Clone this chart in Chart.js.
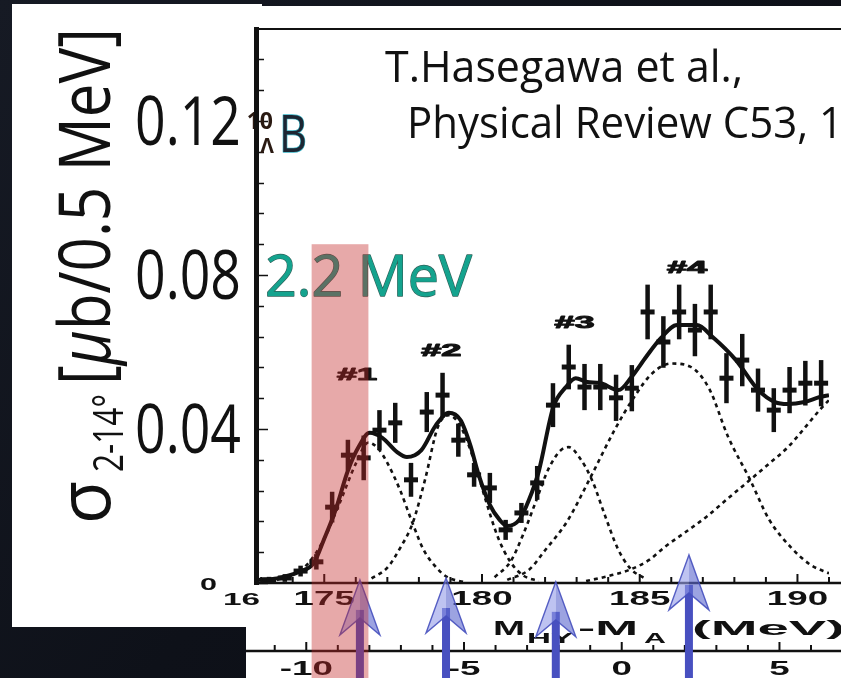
<!DOCTYPE html>
<html>
<head>
<meta charset="utf-8">
<script src="https://cdn.jsdelivr.net/npm/chart.js@4.4.1/dist/chart.umd.min.js"></script>
<style>
  html, body { margin: 0; padding: 0; background: #0d1017; overflow: hidden; }
  canvas { display: block; }
</style>
</head>
<body>
<canvas id="spectrum" width="841" height="678"></canvas>
<script>
// 10B_Lambda excitation spectrum, sigma(2-14 deg) per 0.5 MeV bin, vs M_HY - M_A (MeV)
const binMass = [173.25, 173.75, 174.25, 174.75, 175.25, 175.75, 176.25, 176.75, 177.25, 177.75,
  178.25, 178.75, 179.25, 179.75, 180.25, 180.75, 181.25, 181.75, 182.25, 182.75,
  183.25, 183.75, 184.25, 184.75, 185.25, 185.75, 186.25, 186.75, 187.25, 187.75,
  188.25, 188.75, 189.25, 189.75, 190.25, 190.75];
const crossSection = [0.0008, 0.0013, 0.0031, 0.0055, 0.0197, 0.0332, 0.0325, 0.0397, 0.0416, 0.0268,
  0.0444, 0.0488, 0.0371, 0.0281, 0.0247, 0.0138, 0.0182, 0.0260, 0.0462, 0.0561,
  0.0509, 0.0509, 0.0481, 0.0506, 0.0704, 0.0626, 0.0704, 0.0657, 0.0704, 0.0532,
  0.0579, 0.0501, 0.0449, 0.0501, 0.0519, 0.0519];
const crossSectionErr = [0.0008, 0.0010, 0.0014, 0.0020, 0.0040, 0.0040, 0.0058, 0.0052, 0.0052, 0.0044,
  0.0052, 0.0058, 0.0043, 0.0031, 0.0039, 0.0026, 0.0026, 0.0044, 0.0057, 0.0058,
  0.0060, 0.0060, 0.0060, 0.0060, 0.0071, 0.0067, 0.0071, 0.0068, 0.0071, 0.0065,
  0.0068, 0.0056, 0.0057, 0.0060, 0.0058, 0.0060];

// total fit
const fitMass = [172.9, 173.5, 174.2, 174.67, 175.0, 175.36, 175.76, 176.1, 176.44, 176.84,
  177.31, 177.62, 178.08, 178.54, 178.95, 179.32, 179.63, 179.88, 180.25, 180.56,
  180.8, 181.18, 181.49, 181.8, 182.26, 182.66, 182.97, 183.34, 183.72, 184.33,
  184.74, 185.2, 185.67, 186.19, 186.81, 187.31, 188.05, 188.76, 189.29, 189.69,
  190.22, 190.71, 191.0];
const fitValue = [0.0008, 0.0012, 0.0029, 0.0052, 0.0115, 0.0190, 0.0294, 0.0355, 0.0390, 0.0377,
  0.0340, 0.0327, 0.0345, 0.0410, 0.0442, 0.0423, 0.0358, 0.0285, 0.0203, 0.0164,
  0.0148, 0.0164, 0.0216, 0.0290, 0.0457, 0.0509, 0.0532, 0.0522, 0.0520, 0.0501,
  0.0535, 0.0587, 0.0636, 0.0670, 0.0670, 0.0639, 0.0579, 0.0501, 0.0470, 0.0465,
  0.0470, 0.0483, 0.0488];

// fitted peak components #1 .. #4 and the rising tail of the next state
const peak1Mass  = [173.5, 174.0, 174.5, 175.0, 175.5, 176.0, 176.4, 176.7, 177.0, 177.4, 177.8, 178.15, 178.5, 178.9, 179.4];
const peak1Value = [0.0008, 0.0022, 0.0052, 0.0115, 0.0210, 0.0310, 0.0365, 0.0350, 0.0312, 0.0242, 0.0155, 0.0086, 0.0045, 0.0015, 0.0003];
const peak2Mass  = [176.5, 177.0, 177.4, 177.8, 178.2, 178.6, 178.95, 179.3, 179.7, 180.1, 180.5, 180.9, 181.3, 181.8];
const peak2Value = [0.0012, 0.0040, 0.0090, 0.0155, 0.0270, 0.0405, 0.0436, 0.0410, 0.0330, 0.0220, 0.0120, 0.0055, 0.0020, 0.0005];
const peak3Mass  = [180.4, 180.9, 181.3, 181.7, 182.1, 182.5, 182.75, 183.1, 183.5, 183.9, 184.3, 184.7, 185.2];
const peak3Value = [0.0015, 0.0055, 0.0125, 0.0210, 0.0295, 0.0345, 0.0353, 0.0325, 0.0265, 0.0175, 0.0090, 0.0038, 0.0010];
const peak4Mass  = [180.8, 181.5, 182.0, 182.7, 183.4, 184.2, 184.8, 185.4, 186.0, 186.6, 187.2, 187.8, 188.5, 189.1, 189.8, 190.4, 191.0];
const peak4Value = [0.0008, 0.0035, 0.0085, 0.0160, 0.0268, 0.0397, 0.0480, 0.0545, 0.0570, 0.0562, 0.0505, 0.0380, 0.0268, 0.0165, 0.0092, 0.0048, 0.0025];
const tailMass   = [183.3, 184.0, 184.7, 185.3, 185.8, 186.5, 187.1, 187.8, 188.5, 189.1, 189.7, 190.2, 190.7, 191.0];
const tailValue  = [0.0005, 0.0018, 0.0035, 0.0060, 0.0094, 0.0135, 0.0171, 0.0220, 0.0268, 0.0310, 0.0353, 0.0400, 0.0449, 0.0475];

// axes
const massRange = [172.9, 191.0];
const sigmaRange = [0, 0.1439];
const sigmaTicks = [0, 0.04, 0.08, 0.12];
const sigmaTickLabels = ['0', '0.04', '0.08', '0.12'];
const massTicks = [175, 180, 185, 190];
const bindingZero = 184.43;           // lower scale: M_HY - M_A relative to threshold
const bindingTicks = [-10, -5, 0, 5];

// peak labels, arrows, resolution band
const peakLabels = ['#1', '#2', '#3', '#4'];
const peakLabelMass = [176.04, 178.71, 182.93, 186.5];
const peakLabelSigma = [0.0543, 0.0605, 0.0678, 0.0821];
const arrowMass = [176.13, 178.86, 182.34, 186.56];
const arrowTipSigma = [0.0008, 0.0013, 0.0003, 0.0073];
const bandMass = [174.6, 176.4];
const bandTopSigma = 0.088;

const toXY = (xs, ys) => xs.map((x, i) => ({ x: x, y: ys[i] }));

const INK = '#111';
const PRESENTER = '"Open Sans", "Noto Sans", "Liberation Sans", sans-serif';
const FIGFONT = '"Liberation Sans", Arial, sans-serif';

// draws text; optional fitted width or horizontal stretch
function txt(ctx, s, x, y, o) {
  ctx.save();
  ctx.font = o.font;
  ctx.textAlign = 'left';
  ctx.textBaseline = 'alphabetic';
  const w = ctx.measureText(s).width;
  const sx = o.width ? o.width / w : (o.sx || 1);
  const dw = w * sx;
  let left = x;
  if (o.align === 'center') left = x - dw / 2;
  else if (o.align === 'right') left = x - dw;
  ctx.translate(left, y);
  ctx.scale(sx, 1);
  if (o.stroke) {
    ctx.strokeStyle = o.stroke;
    ctx.lineWidth = o.lw || 1;
    ctx.lineJoin = 'round';
    ctx.strokeText(s, 0, 0);
  }
  ctx.fillStyle = o.color || INK;
  ctx.fillText(s, 0, 0);
  ctx.restore();
  return dw;
}

const backdrop = {
  id: 'backdrop',
  beforeDraw(chart) {
    const ctx = chart.ctx, W = chart.width, H = chart.height;
    ctx.save();
    const g = ctx.createLinearGradient(0, 0, W, H);
    g.addColorStop(0, '#161a24');
    g.addColorStop(0.5, '#0e1119');
    g.addColorStop(1, '#0b0d13');
    ctx.fillStyle = g;
    ctx.fillRect(0, 0, W, H);
    ctx.fillStyle = '#ffffff';
    ctx.fillRect(12, 4, 250, 623);
    ctx.fillRect(246, 6, W - 246, H - 6);
    ctx.restore();
  }
};

const errorBars = {
  id: 'errorBars',
  afterDatasetsDraw(chart) {
    const ctx = chart.ctx, xs = chart.scales.x, ys = chart.scales.y;
    ctx.save();
    ctx.strokeStyle = INK;
    ctx.lineWidth = 4.5;
    ctx.lineCap = 'butt';
    binMass.forEach((m, i) => {
      const x = xs.getPixelForValue(m);
      ctx.beginPath();
      ctx.moveTo(x, ys.getPixelForValue(crossSection[i] - crossSectionErr[i]));
      ctx.lineTo(x, ys.getPixelForValue(crossSection[i] + crossSectionErr[i]));
      ctx.stroke();
    });
    ctx.restore();
  }
};

function drawArrow(ctx, x, tipY, bottom) {
  const headH = 55, notch = 38, half = 20, shaftW = 8;
  ctx.fillStyle = 'rgb(72,80,192)';
  ctx.fillRect(x - shaftW / 2, tipY + notch - 8, shaftW, bottom - (tipY + notch - 8));
  ctx.beginPath();
  ctx.moveTo(x, tipY); ctx.lineTo(x - half, tipY + headH); ctx.lineTo(x, tipY + notch); ctx.closePath();
  ctx.fillStyle = 'rgba(150,158,232,0.62)';
  ctx.fill();
  ctx.beginPath();
  ctx.moveTo(x, tipY); ctx.lineTo(x + half, tipY + headH); ctx.lineTo(x, tipY + notch); ctx.closePath();
  ctx.fillStyle = 'rgba(96,106,206,0.62)';
  ctx.fill();
  ctx.beginPath();
  ctx.moveTo(x, tipY); ctx.lineTo(x - half, tipY + headH); ctx.lineTo(x, tipY + notch);
  ctx.lineTo(x + half, tipY + headH); ctx.closePath();
  ctx.strokeStyle = 'rgba(70,80,190,0.9)';
  ctx.lineWidth = 1.4;
  ctx.stroke();
}

const overlay = {
  id: 'overlay',
  afterDraw(chart) {
    const ctx = chart.ctx, xs = chart.scales.x, ys = chart.scales.y, bs = chart.scales.x2;
    const a = chart.chartArea, H = chart.height, W = chart.width;
    ctx.save();

    // ---- frame and inward ticks
    ctx.strokeStyle = INK;
    ctx.lineWidth = 2;
    ctx.beginPath(); ctx.moveTo(a.left - 3, a.top); ctx.lineTo(W, a.top); ctx.stroke();
    ctx.lineWidth = 2.5;
    ctx.beginPath(); ctx.moveTo(a.left - 3, a.bottom); ctx.lineTo(W, a.bottom); ctx.stroke();
    ctx.lineWidth = 1.5;
    for (let v = 0; v <= sigmaRange[1]; v += 0.008) {
      const y = Math.round(ys.getPixelForValue(v)) + 0.5;
      const major = Math.abs(v / 0.04 - Math.round(v / 0.04)) < 1e-6;
      ctx.beginPath(); ctx.moveTo(a.left, y); ctx.lineTo(a.left + (major ? 10 : 6), y); ctx.stroke();
    }
    ctx.lineWidth = 2;
    for (let m = Math.ceil(massRange[0]); m <= massRange[1]; m++) {
      const x = xs.getPixelForValue(m);
      const len = massTicks.includes(m) ? 9 : 6;
      ctx.beginPath(); ctx.moveTo(x, a.bottom); ctx.lineTo(x, a.bottom - len); ctx.stroke();
    }

    // ---- y tick labels
    sigmaTicks.forEach((v, i) => {
      const y = ys.getPixelForValue(v);
      if (v === 0) {
        txt(ctx, sigmaTickLabels[i], 217, y + 7, { font: 'bold 17px ' + FIGFONT, sx: 1.8, align: 'right' });
      } else {
        txt(ctx, sigmaTickLabels[i], 241, y + 24, { font: '67px ' + PRESENTER, sx: 0.8, align: 'right' });
      }
    });

    // ---- y axis title, rotated
    ctx.save();
    ctx.translate(110, 524);
    ctx.rotate(-Math.PI / 2);
    txt(ctx, 'σ', 0, 0, { font: '74px ' + PRESENTER, width: 43 });
    txt(ctx, '2-14°', 52, 13, { font: '42px ' + PRESENTER, width: 78 });
    const unitParts = [['[', '72px '], ['μ', 'italic 72px '], ['b/0.5 MeV]', '72px ']];
    let total = 0;
    unitParts.forEach(p => { ctx.font = p[1] + PRESENTER; total += ctx.measureText(p[0]).width; });
    const k = 357 / total;
    let cx = 139;
    unitParts.forEach(p => { cx += txt(ctx, p[0], cx, 0, { font: p[1] + PRESENTER, sx: k }); });
    ctx.restore();

    // ---- x tick labels and title
    massTicks.forEach(m => {
      txt(ctx, String(m), xs.getPixelForValue(m), 605, { font: 'bold 21px ' + FIGFONT, sx: 1.75, align: 'center' });
    });
    txt(ctx, '16', 260, 605, { font: 'bold 17px ' + FIGFONT, width: 37, align: 'right' });
    const fig = 'bold 21px ' + FIGFONT, figSub = 'bold 15px ' + FIGFONT;
    txt(ctx, 'M', 493, 635, { font: fig, width: 32 });
    txt(ctx, 'HY', 527, 643, { font: figSub, width: 46 });
    txt(ctx, '-M', 578, 635, { font: fig, width: 60 });
    txt(ctx, 'A', 644, 643, { font: figSub, width: 22 });
    txt(ctx, '(MeV)', 692, 635, { font: fig, width: 153 });

    // ---- lower (threshold-relative) axis
    const lowY = 651;
    ctx.strokeStyle = INK;
    ctx.lineWidth = 2.5;
    ctx.beginPath(); ctx.moveTo(246, lowY); ctx.lineTo(W, lowY); ctx.stroke();
    ctx.lineWidth = 2;
    for (let u = Math.ceil(bs.min); u <= bs.max; u++) {
      const x = bs.getPixelForValue(u);
      const len = bindingTicks.includes(u) ? 9 : 6;
      ctx.beginPath(); ctx.moveTo(x, lowY); ctx.lineTo(x, lowY - len); ctx.stroke();
    }
    bindingTicks.forEach(u => {
      txt(ctx, String(u), bs.getPixelForValue(u), 675, { font: 'bold 21px ' + FIGFONT, sx: 1.75, align: 'center' });
    });

    // ---- peak labels
    peakLabels.forEach((s, i) => {
      txt(ctx, s, xs.getPixelForValue(peakLabelMass[i]), ys.getPixelForValue(peakLabelSigma[i]) + 6,
        { font: 'bold 16px ' + FIGFONT, width: 40, align: 'center', stroke: INK, lw: 1 });
    });

    // ---- reference and annotations
    txt(ctx, 'T.Hasegawa et al.,', 385, 82, { font: '44px ' + PRESENTER, width: 358 });
    txt(ctx, 'Physical Review C53, 1', 407, 138, { font: '44px ' + PRESENTER, width: 436 });
    txt(ctx, '2.2 MeV', 265, 296, { font: '56px ' + PRESENTER, width: 207, color: '#14a38e', stroke: 'rgba(12,70,62,0.85)', lw: 1.3 });
    txt(ctx, 'B', 279, 152, { font: '52px ' + PRESENTER, width: 28, color: '#1c2633', stroke: '#3ab6c8', lw: 1.3 });
    txt(ctx, '10', 273, 129, { font: 'bold 23px ' + PRESENTER, align: 'right', color: '#2a1a12' });
    txt(ctx, 'Λ', 267, 153, { font: 'bold 21px ' + PRESENTER, align: 'center', color: '#2a1a12' });

    // left axis (drawn over the superscript's leading digit)
    ctx.strokeStyle = INK;
    ctx.lineWidth = 5;
    ctx.beginPath(); ctx.moveTo(a.left - 1.5, a.top - 2); ctx.lineTo(a.left - 1.5, a.bottom + 2); ctx.stroke();

    // ---- arrows
    arrowMass.forEach((m, i) => {
      drawArrow(ctx, xs.getPixelForValue(m), ys.getPixelForValue(arrowTipSigma[i]), H);
    });

    // ---- 2.2 MeV band
    const bl = xs.getPixelForValue(bandMass[0]), br = xs.getPixelForValue(bandMass[1]);
    const bt = ys.getPixelForValue(bandTopSigma);
    ctx.fillStyle = 'rgba(195,40,40,0.40)';
    ctx.fillRect(bl, bt, br - bl, H - bt);
    ctx.restore();
  }
};

const dashed = (xs, ys) => ({
  data: toXY(xs, ys), showLine: true, borderColor: INK, borderWidth: 2.6, borderDash: [4, 4],
  pointRadius: 0, fill: false, cubicInterpolationMode: 'monotone'
});

new Chart(document.getElementById('spectrum'), {
  type: 'scatter',
  data: {
    datasets: [
      { data: toXY(binMass, crossSection), showLine: false, pointStyle: 'line', pointRadius: 7,
        borderColor: INK, borderWidth: 5, pointBorderWidth: 5 },
      { data: toXY(fitMass, fitValue), showLine: true, borderColor: INK, borderWidth: 4,
        pointRadius: 0, fill: false, cubicInterpolationMode: 'monotone' },
      dashed(peak1Mass, peak1Value),
      dashed(peak2Mass, peak2Value),
      dashed(peak3Mass, peak3Value),
      dashed(peak4Mass, peak4Value),
      dashed(tailMass, tailValue)
    ]
  },
  options: {
    responsive: false,
    animation: false,
    events: [],
    layout: { padding: { left: 258, right: 0, top: 29, bottom: 95 } },
    scales: {
      x: { type: 'linear', min: massRange[0], max: massRange[1], display: false },
      y: { type: 'linear', min: sigmaRange[0], max: sigmaRange[1], display: false },
      x2: { type: 'linear', axis: 'x', min: massRange[0] - bindingZero, max: massRange[1] - bindingZero, display: false }
    },
    plugins: { legend: { display: false }, tooltip: { enabled: false } }
  },
  plugins: [backdrop, errorBars, overlay]
});
</script>
</body>
</html>
